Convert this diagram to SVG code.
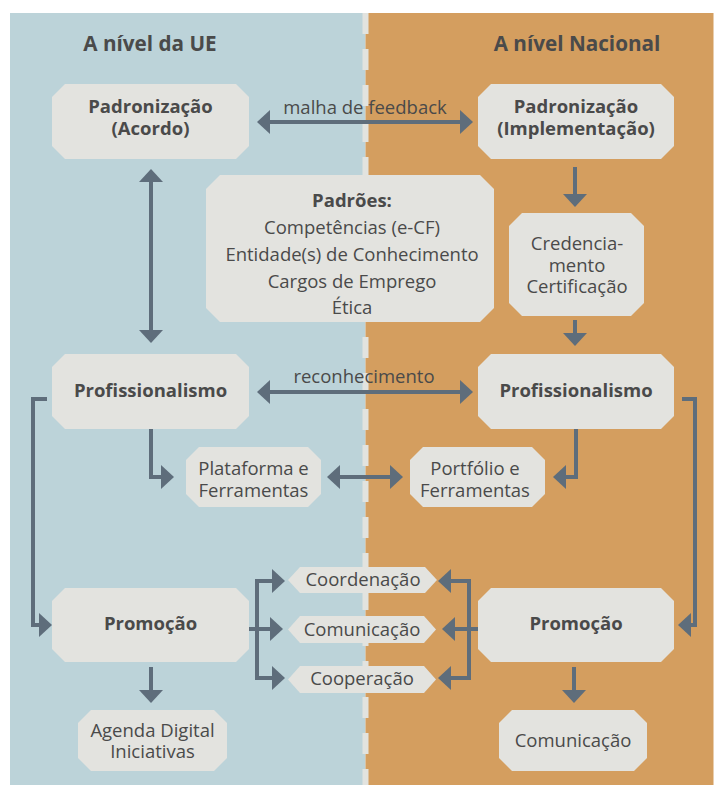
<svg xmlns="http://www.w3.org/2000/svg" width="718" height="787" viewBox="0 0 718 787">
<style>
.node{fill:#e3e3df}
.t{font-family:"Open Sans","Noto Sans","Liberation Sans",sans-serif;font-size:18.5px;fill:#4a4a4a;text-anchor:middle}
.b{font-weight:bold}
.h{font-size:20.7px;font-weight:bold}
.c{fill:none;stroke:#5e6d7b;stroke-width:4}
</style>
<defs>
<marker id="ah" viewBox="0 0 13 24" refX="0.5" refY="12" markerWidth="13" markerHeight="24" markerUnits="userSpaceOnUse" orient="auto-start-reverse">
<path d="M0,0 L13,12 L0,24 Z" fill="#5e6d7b"/>
</marker>
</defs>
<rect x="10" y="13" width="355.5" height="772" fill="#bcd3d9"/>
<rect x="365.5" y="13" width="348" height="772" fill="#d49e5f"/>
<line x1="365.5" y1="13" x2="365.5" y2="785" stroke="#e2e3df" stroke-width="6" stroke-dasharray="21 15"/>
<text class="t h" x="150" y="51">A nível da UE</text>
<text class="t h" x="577" y="51">A nível Nacional</text>

<g id="connectors">
<path class="c" d="M269.5,122 H460.5" marker-start="url(#ah)" marker-end="url(#ah)"/>
<path class="c" d="M151,181.5 V330.5" marker-start="url(#ah)" marker-end="url(#ah)"/>
<path class="c" d="M575,167 V194.5" marker-end="url(#ah)"/>
<path class="c" d="M575,320 V333.5" marker-end="url(#ah)"/>
<path class="c" d="M269.5,392 H460.5" marker-start="url(#ah)" marker-end="url(#ah)"/>
<path class="c" d="M151,429 V477 H161.5" marker-end="url(#ah)"/>
<path class="c" d="M576,429 V477 H565.5" marker-end="url(#ah)"/>
<path class="c" d="M339.5,477 H390.5" marker-start="url(#ah)" marker-end="url(#ah)"/>
<path class="c" d="M47,399 H33 V625 H39.5" marker-end="url(#ah)"/>
<path class="c" d="M682,399 H695 V625 H690.5" marker-end="url(#ah)"/>
<path class="c" d="M272.5,581 H257 V678 H272.5" marker-start="url(#ah)" marker-end="url(#ah)"/>
<path class="c" d="M249,629 H270.5" marker-end="url(#ah)"/>
<path class="c" d="M450.5,581 H469 V678 H450.5" marker-start="url(#ah)" marker-end="url(#ah)"/>
<path class="c" d="M478,629 H454.5" marker-end="url(#ah)"/>
<path class="c" d="M151,667 V690.5" marker-end="url(#ah)"/>
<path class="c" d="M574,667 V690.5" marker-end="url(#ah)"/>
<text class="t" x="365" y="114">malha de feedback</text>
<text class="t" x="364" y="383">reconhecimento</text>
</g>

<g id="padronizacao-ue">
<path class="node" d="M65,84 H236 L249,97 V146 L236,159 H65 L52,146 V97 Z"/>
<text class="t b" x="150.5" y="113">Padronização</text>
<text class="t b" x="150.5" y="135">(Acordo)</text>
</g>
<g id="padronizacao-nacional">
<path class="node" d="M491,84 H661 L674,97 V146 L661,159 H491 L478,146 V97 Z"/>
<text class="t b" x="576" y="113">Padronização</text>
<text class="t b" x="576" y="135">(Implementação)</text>
</g>
<g id="padroes">
<path class="node" d="M220,175 H480 L494,189 V308 L480,322 H220 L206,308 V189 Z"/>
<text class="t b" x="352" y="207">Padrões:</text>
<text class="t" x="352" y="234">Competências (e-CF)</text>
<text class="t" x="352" y="261">Entidade(s) de Conhecimento</text>
<text class="t" x="352" y="288">Cargos de Emprego</text>
<text class="t" x="352" y="314">Ética</text>
</g>
<g id="credenciamento">
<path class="node" d="M522,213 H631 L644,226 V303 L631,316 H522 L509,303 V226 Z"/>
<text class="t" x="577" y="250">Credencia-</text>
<text class="t" x="577" y="272">mento</text>
<text class="t" x="577" y="293">Certificação</text>
</g>
<g id="profissionalismo-ue">
<path class="node" d="M65,354 H236 L249,367 V416 L236,429 H65 L52,416 V367 Z"/>
<text class="t b" x="150.5" y="397">Profissionalismo</text>
</g>
<g id="profissionalismo-nacional">
<path class="node" d="M491,354 H661 L674,367 V416 L661,429 H491 L478,416 V367 Z"/>
<text class="t b" x="576" y="397">Profissionalismo</text>
</g>
<g id="plataforma">
<path class="node" d="M199,447 H308 L321,460 V494 L308,507 H199 L186,494 V460 Z"/>
<text class="t" x="253.5" y="475">Plataforma e</text>
<text class="t" x="253.5" y="497">Ferramentas</text>
</g>
<g id="portfolio">
<path class="node" d="M423,447 H532 L545,460 V494 L532,507 H423 L410,494 V460 Z"/>
<text class="t" x="475" y="475">Portfólio e</text>
<text class="t" x="475" y="497">Ferramentas</text>
</g>
<g id="promocao-ue">
<path class="node" d="M65,588 H236 L249,601 V649 L236,662 H65 L52,649 V601 Z"/>
<text class="t b" x="150.5" y="630">Promoção</text>
</g>
<g id="promocao-nacional">
<path class="node" d="M491,588 H661 L674,601 V649 L661,662 H491 L478,649 V601 Z"/>
<text class="t b" x="576" y="630">Promoção</text>
</g>
<g id="coordenacao">
<path class="node" d="M300,567 H425 L437,580 L425,593 H300 L288,580 Z"/>
<text class="t" x="363" y="586">Coordenação</text>
</g>
<g id="comunicacao-centro">
<path class="node" d="M300,616 H424 L436,629.5 L424,643 H300 L288,629.5 Z"/>
<text class="t" x="362" y="636">Comunicação</text>
</g>
<g id="cooperacao">
<path class="node" d="M300,666 H424 L436,679.5 L424,693 H300 L288,679.5 Z"/>
<text class="t" x="362" y="685">Cooperação</text>
</g>
<g id="agenda-digital">
<path class="node" d="M91,710 H214 L227,723 V758 L214,771 H91 L78,758 V723 Z"/>
<text class="t" x="152.5" y="737">Agenda Digital</text>
<text class="t" x="152.5" y="758">Iniciativas</text>
</g>
<g id="comunicacao-nacional">
<path class="node" d="M512,710 H634 L647,723 V758 L634,771 H512 L499,758 V723 Z"/>
<text class="t" x="573" y="747">Comunicação</text>
</g>
</svg>
